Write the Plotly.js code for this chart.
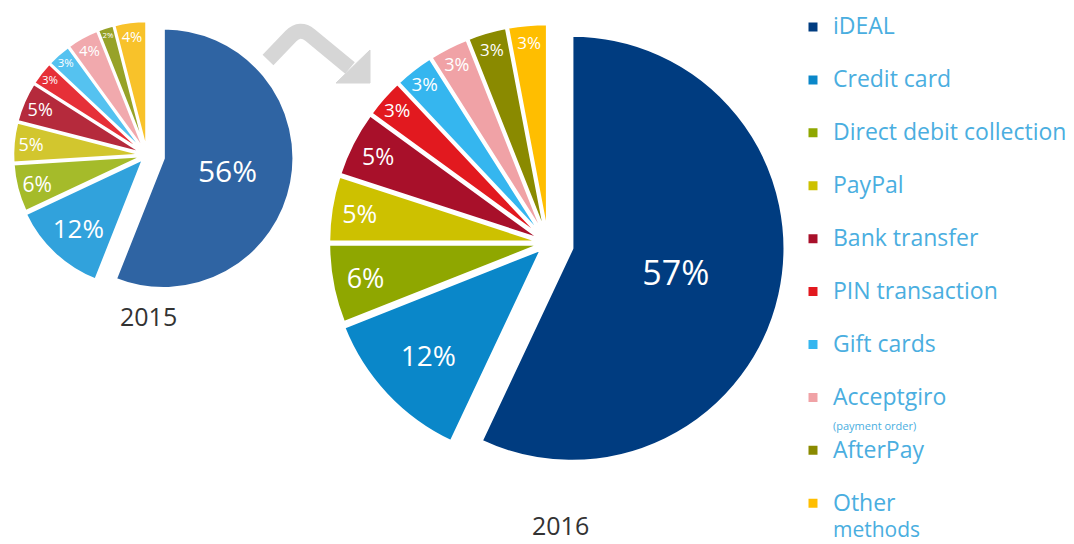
<!DOCTYPE html>
<html>
<head>
<meta charset="utf-8">
<script src="https://cdn.plot.ly/plotly-3.0.1.min.js"></script>
<style>html,body{margin:0;padding:0;background:#fff;}#chart{width:1074px;height:544px;}</style>
</head>
<body>
<div id="chart"></div>
<script>
// ---- data ----
const categories = ["iDEAL", "Credit card", "Direct debit collection", "PayPal", "Bank transfer",
  "PIN transaction", "Gift cards", "Acceptgiro", "AfterPay", "Other"];
const legendSubLabels = ["", "", "", "", "", "", "", "(payment order)", "", ""];
const legendContinuation = "methods";   // second line of "Other methods"
const values2015 = [56, 12, 6, 5, 5, 3, 3, 4, 2, 4];
const values2016 = [57, 12, 6, 5, 5, 3, 3, 3, 3, 3];
const years = ["2015", "2016"];

const colors2016 = ["#003c80", "#0a87c9", "#8fa700", "#cdc100", "#a8102a", "#e2191f", "#35b6ef", "#f0a2a6", "#8a8a00", "#ffbe00"];
const colors2015 = ["#2f64a3", "#31a2dc", "#a5bb2a", "#d2c62e", "#b52a3c", "#e63038", "#55c2f0", "#f1a9ad", "#97a228", "#f8c22a"];

const pull2016 = [0.115, 0.04, 0.03, 0.03, 0.03, 0.03, 0.03, 0.03, 0.03, 0.03];
const pull2015 = [0.13, 0.04, 0.03, 0.03, 0.03, 0.03, 0.03, 0.03, 0.03, 0.03];

const W = 1074, H = 544;
const px = x => x / W, py = y => 1 - y / H;
const legendColor = "#4aaee0";

// legend entries: big text on first line, second (small or blank) line for even spacing
const legendText = categories.map((l, i) => {
  const main = "<span style='font-size:23px'>" + l + "</span>";
  if (i === categories.length - 1) return main;
  const sub = legendSubLabels[i] ? "<span style='font-size:11px'>" + legendSubLabels[i] + "</span>" : "\u00a0";
  return main + "<br>" + sub;
});

function pieTrace(values, colors, pull, sizes, domain, name, lw) {
  return {
    type: "pie", sort: false, direction: "clockwise", rotation: 0,
    name: name,
    labels: legendText,
    values: values,
    pull: pull,
    texttemplate: "%{value}%",
    textposition: "inside",
    insidetextorientation: "horizontal",
    hoverinfo: "label+percent",
    marker: {colors: colors, line: {color: "#ffffff", width: lw}},
    insidetextfont: {color: "#ffffff", family: "Open Sans", size: sizes},
    domain: domain
  };
}

const trace2016 = pieTrace(values2016, colors2016, pull2016,
  [34, 28, 27, 25, 23, 20, 20, 18, 17, 17],
  {x: [0.2891, 0.7314], y: [0.1167, 0.9899]}, years[1], 3);
const trace2015 = pieTrace(values2015, colors2015, pull2015,
  [30, 26, 25, 22, 22, 19, 19, 18, 16, 16],
  {x: [0.0, 0.2737], y: [0.441, 0.989]}, years[0], 2.5);

// decorative arrow from 2015 to 2016
const shaft = "M " + px(268) + "," + py(60) + " L " + px(291) + "," + py(36) +
  " Q " + px(300) + "," + py(27) + " " + px(310) + "," + py(35) + " L " + px(350) + "," + py(68);
const head = "M " + px(370) + "," + py(50) + " L " + px(370) + "," + py(83) + " L " + px(336) + "," + py(83) + " Z";

const layout = {
  width: W, height: H,
  margin: {l: 0, r: 0, t: 0, b: 0},
  paper_bgcolor: "#ffffff",
  showlegend: true,
  legend: {
    x: px(793), y: py(8), xanchor: "left", yanchor: "top",
    font: {family: "Open Sans", size: 19.2, color: legendColor},
    valign: "top", itemwidth: 30,
    bgcolor: "rgba(0,0,0,0)"
  },
  shapes: [
    {type: "path", xref: "paper", yref: "paper", path: shaft, line: {color: "#d6d6d6", width: 15}},
    {type: "path", xref: "paper", yref: "paper", path: head, fillcolor: "#d6d6d6", line: {color: "#d6d6d6", width: 1}}
  ],
  annotations: [
    {text: years[0], x: px(148), y: py(316), xref: "paper", yref: "paper", showarrow: false,
     xanchor: "center", yanchor: "middle",
     font: {family: "Open Sans", size: 25, color: "#333333"}},
    {text: years[1], x: px(560), y: py(525), xref: "paper", yref: "paper", showarrow: false,
     xanchor: "center", yanchor: "middle",
     font: {family: "Open Sans", size: 25, color: "#333333"}},
    {text: legendContinuation, x: px(832), y: 0, xref: "paper", yref: "paper", showarrow: false,
     xanchor: "left", yanchor: "bottom", borderpad: 0,
     font: {family: "Open Sans", size: 21, color: legendColor}}
  ]
};

Plotly.newPlot("chart", [trace2016, trace2015], layout, {displayModeBar: false, staticPlot: true});
</script>
</body>
</html>
